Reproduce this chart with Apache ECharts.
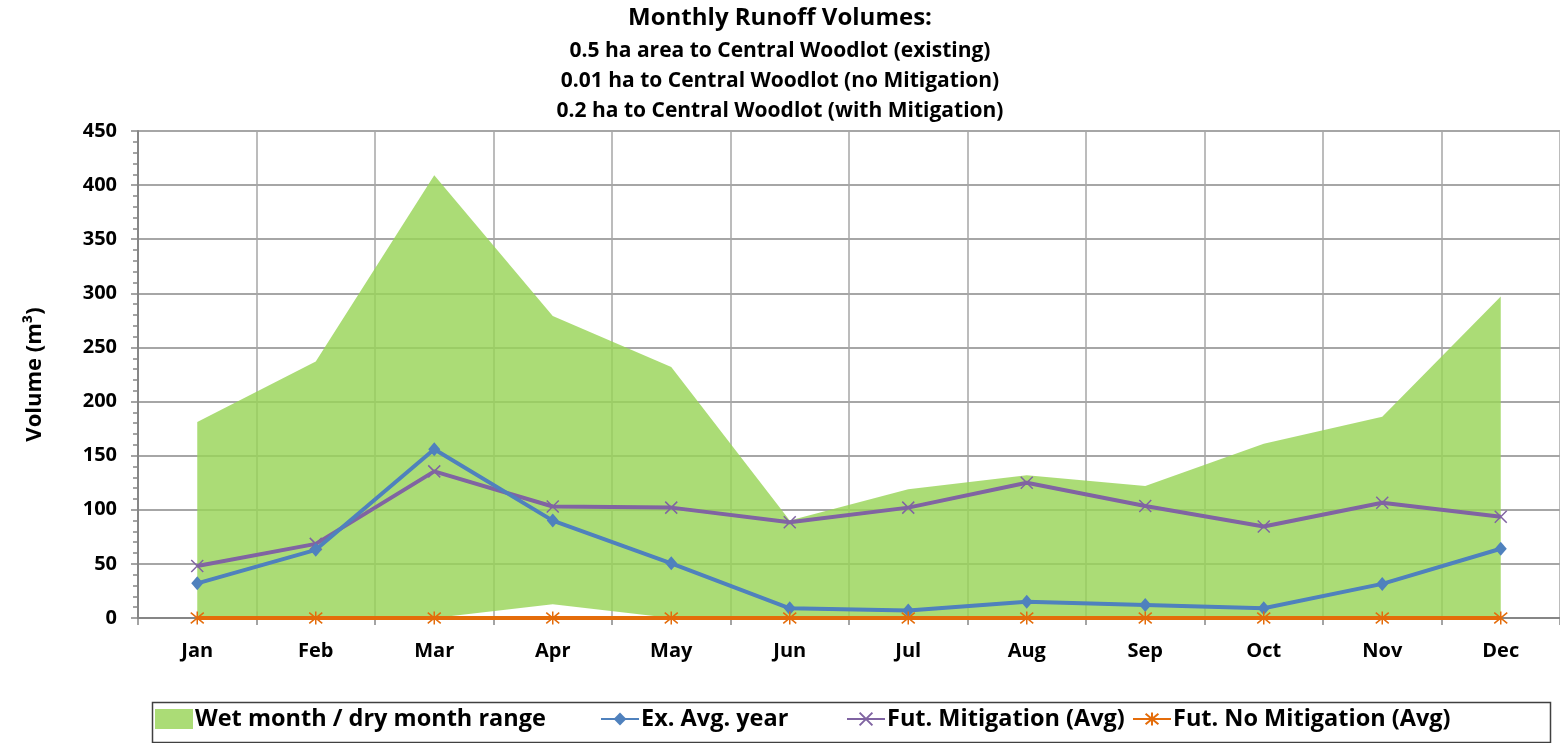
<!DOCTYPE html>
<html>
<head>
<meta charset="utf-8">
<script src="https://cdn.jsdelivr.net/npm/echarts@6/dist/echarts.min.js"></script>
<style>html,body{margin:0;padding:0;background:#fff;}#c{width:1560px;height:743px;}</style>
</head>
<body>
<div id="c"></div>
<script>
var months = ['Jan','Feb','Mar','Apr','May','Jun','Jul','Aug','Sep','Oct','Nov','Dec'];
var rangeLower = [0, 0, 0, 12.6, 0, 0, 0, 0, 0, 0, 0, 0];
var rangeUpper = [181, 237, 409, 279, 232, 90, 119, 132, 122, 161, 186, 297];
var exAvgYear = [32, 63, 156, 90, 50.5, 9, 7, 15, 12, 9, 31.5, 64];
var futMitigation = [48, 68.5, 135.5, 103, 102, 88.5, 102, 125, 103.5, 84.5, 106.5, 93.5];
var futNoMitigation = [0, 0, 0, 0, 0, 0, 0, 0, 0, 0, 0, 0];
var yTicks = [0, 50, 100, 150, 200, 250, 300, 350, 400, 450];
var titleLines = ['Monthly Runoff Volumes:', '0.5 ha area to Central Woodlot (existing)', '0.01 ha to Central Woodlot (no Mitigation)', '0.2 ha to Central Woodlot (with Mitigation)'];
var seriesNames = ['Wet month / dry month range', 'Ex. Avg. year', 'Fut. Mitigation (Avg)', 'Fut. No Mitigation (Avg)'];

var FONT = 'Open Sans';
var rangeSpan = rangeUpper.map(function (u, i) { return u - rangeLower[i]; });
var xPath = 'path://M0,0L10,10M10,0L0,10';
var starPath = 'path://M0,0L10,10M10,0L0,10M5,-1L5,11';

var chart = echarts.init(document.getElementById('c'));
var titleTops = [6, 41, 71, 101];
var titleSizes = [24, 21, 21, 21];
var legendLefts = [155, 600, 846, 1132];
var legendIcons = ['rect', null, null, null];
chart.setOption({
  animation: false,
  title: titleLines.map(function (t, i) {
    return { text: t, left: 'center', top: titleTops[i], padding: 0,
      textStyle: { fontFamily: FONT, fontWeight: 'bold', fontSize: titleSizes[i], color: '#000' } };
  }),
  graphic: [{ type: 'rect', left: 150, top: 700, shape: { width: 1398, height: 40 },
    style: { fill: 'none', stroke: '#404040', lineWidth: 1.5 }, z: 100 }],
  legend: seriesNames.map(function (n, i) {
    var l = { data: [n], left: legendLefts[i], top: 707, itemWidth: 38, itemHeight: i === 0 ? 20 : 16,
      itemGap: 4, padding: 0,
      textStyle: { fontFamily: FONT, fontWeight: 'bold', fontSize: 23.5, color: '#000', padding: [0, 0, 0, -3] } };
    if (legendIcons[i]) l.icon = legendIcons[i];
    return l;
  }),
  grid: { left: 138, right: -3, top: 131, bottom: 125 },
  xAxis: {
    type: 'category', data: months, boundaryGap: true,
    axisLine: { lineStyle: { color: '#868686', width: 2 } },
    axisTick: { show: true, length: 7, lineStyle: { color: '#868686', width: 1.5 } },
    axisLabel: { fontFamily: FONT, fontWeight: 'bold', fontSize: 20, color: '#000', margin: 23 },
    splitLine: { show: true, lineStyle: { color: '#a6a6a6', width: 1.5 } }
  },
  yAxis: {
    type: 'value', min: 0, max: 450, interval: 50,
    name: 'Volume (m³)', nameLocation: 'middle', nameGap: 92, nameRotate: 90,
    nameTextStyle: { fontFamily: FONT, fontWeight: 'bold', fontSize: 22, color: '#000' },
    axisLine: { show: true, lineStyle: { color: '#868686', width: 2 } },
    axisTick: { show: true, length: 7, lineStyle: { color: '#868686', width: 1.5 } },
    minorTick: { show: true, splitNumber: 5, length: 5, lineStyle: { color: '#868686', width: 1.5 } },
    axisLabel: { fontFamily: FONT, fontWeight: 'bold', fontSize: 20, color: '#000', margin: 21,
      formatter: function (v) { return yTicks.indexOf(v) >= 0 ? String(v) : ''; } },
    splitLine: { show: true, lineStyle: { color: '#a6a6a6', width: 2 } }
  },
  series: [
    { name: '_lower', type: 'line', stack: 'band', data: rangeLower, symbol: 'none',
      lineStyle: { opacity: 0 }, silent: true, z: 1 },
    { name: seriesNames[0], type: 'line', stack: 'band', data: rangeSpan, symbol: 'none',
      lineStyle: { opacity: 0, width: 0 }, itemStyle: { color: 'rgba(152,212,88,0.82)' },
      areaStyle: { color: 'rgba(152,212,88,0.82)', opacity: 1 }, z: 1 },
    { name: seriesNames[1], type: 'line', data: exAvgYear, symbol: 'diamond', symbolSize: [12, 14],
      lineStyle: { color: '#4f81bd', width: 4 }, itemStyle: { color: '#4f81bd' }, z: 4 },
    { name: seriesNames[2], type: 'line', data: futMitigation, symbol: xPath, symbolSize: 12,
      lineStyle: { color: '#8064a2', width: 4 },
      itemStyle: { color: '#8064a2', borderColor: '#8064a2', borderWidth: 1.5 }, z: 3 },
    { name: seriesNames[3], type: 'line', data: futNoMitigation, symbol: starPath, symbolSize: 13,
      lineStyle: { color: '#e46c0a', width: 4 },
      itemStyle: { color: '#e46c0a', borderColor: '#e46c0a', borderWidth: 1.5 }, z: 5 }
  ]
});
</script>
</body>
</html>
